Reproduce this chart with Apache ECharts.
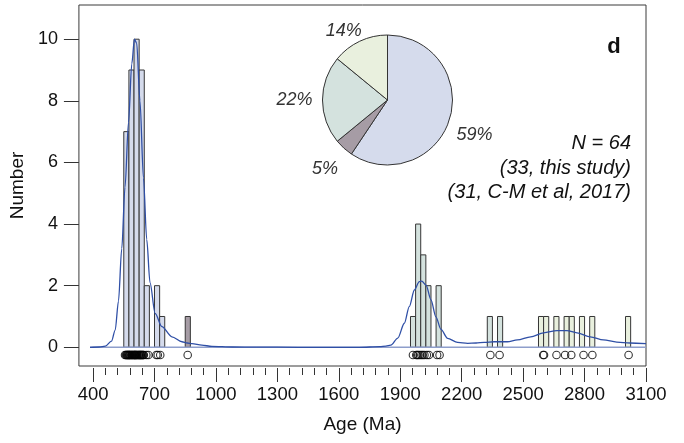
<!DOCTYPE html>
<html><head><meta charset="utf-8">
<script src="https://cdn.jsdelivr.net/npm/echarts@6/dist/echarts.min.js"></script>
<style>html,body{margin:0;padding:0;background:#fff}#c{width:684px;height:443px}</style>
</head><body><div id="c"></div>
<script>
// ---------- DATA ----------
const binWidth = 25; // Ma
// Histogram bins (bin start, Ma) and counts per population
const binsA = [550, 575, 600, 625, 650, 700, 725];
const countsA = [7, 9, 10, 9, 2, 2, 1];
const binsB = [850];
const countsB = [1];
const binsC = [1950, 1975, 2000, 2025, 2075, 2325, 2375];
const countsC = [1, 4, 3, 2, 2, 1, 1];
const binsD = [2575, 2600, 2650, 2700, 2725, 2775, 2825, 3000];
const countsD = [1, 1, 1, 1, 1, 1, 1, 1];

// Individual grain ages (rug of circles)
const agesA = [556, 560, 563, 566, 568, 571, 573,
  576, 578, 580, 583, 586, 589, 591, 594, 597,
  600, 602, 604, 606, 609, 611, 614, 617, 620, 623,
  626, 628, 631, 633, 636, 639, 642, 645, 648,
  660, 670, 709, 716, 728];
const agesB = [862];
const agesC = [1962, 1978, 1983, 1988, 1995, 2003, 2010, 2018, 2030, 2040, 2080, 2092, 2340, 2385];
const agesD = [2598, 2602, 2663, 2705, 2735, 2795, 2838, 3015];

// Kernel density estimate curve
const kdeAge = [385, 430, 460, 490, 508, 524, 540, 556, 573, 589, 602, 613, 629, 646, 662, 678, 703, 736, 785, 834, 860, 883, 931, 980, 1080, 1200, 1400, 1700, 1800, 1830, 1854, 1888, 1920, 1944, 1969, 1993, 2005, 2026, 2050, 2074, 2099, 2131, 2180, 2229, 2270, 2310, 2358, 2423, 2472, 2537, 2600, 2665, 2714, 2763, 2828, 2892, 2957, 3022, 3100];
const kdeValue = [0, 0.01, 0.04, 0.2, 0.56, 1.5, 3.2, 5.2, 7.3, 9.2, 10.0, 9.87, 8.0, 5.5, 3.5, 2.1, 1.1, 0.67, 0.34, 0.18, 0.14, 0.12, 0.07, 0.03, 0.01, 0.005, 0, 0, 0.02, 0.04, 0.07, 0.3, 0.78, 1.32, 1.86, 2.13, 2.15, 2.02, 1.54, 0.99, 0.58, 0.29, 0.16, 0.13, 0.14, 0.16, 0.18, 0.18, 0.24, 0.34, 0.47, 0.54, 0.54, 0.47, 0.34, 0.24, 0.17, 0.14, 0.12];

// Pie (grain counts per population)
const pieValues = [38, 3, 14, 9];

// Tick labels
const xMajorTicks = [400, 700, 1000, 1300, 1600, 1900, 2200, 2500, 2800, 3100];
const yTicks = [0, 2, 4, 6, 8, 10];
const xMinorTicks = [];
for (let v = 400; v <= 3100; v += 60) xMinorTicks.push(v);

// ---------- STYLE ----------
const FONT = 'Liberation Sans, Arial, sans-serif';
const colA = '#d5dbec', colB = '#a69ca5', colC = '#d4e2de', colD = '#e9f0de';
const RUG_Y = -0.25;

const chart = echarts.init(document.getElementById('c'), null, {renderer: 'canvas'});

function hist(bins, counts, color) {
  return {
    type: 'custom', xAxisIndex: 0, yAxisIndex: 0, z: 2, silent: true,
    data: bins.map((b, i) => [b, counts[i]]),
    encode: {x: 0, y: 1},
    renderItem: function (params, api) {
      const x0 = api.value(0), c = api.value(1);
      const p0 = api.coord([x0, c]);
      const p1 = api.coord([x0 + binWidth, 0]);
      return {type: 'rect',
        shape: {x: p0[0], y: p0[1], width: p1[0] - p0[0], height: p1[1] - p0[1]},
        style: {fill: color, stroke: '#363636', lineWidth: 1}};
    }
  };
}
function rug(ages) {
  return {
    type: 'scatter', xAxisIndex: 0, yAxisIndex: 0, z: 6, silent: true,
    symbol: 'circle', symbolSize: 7.5,
    itemStyle: {color: 'rgba(0,0,0,0)', borderColor: '#000', borderWidth: 1.1},
    data: ages.map(a => [a, RUG_Y])
  };
}

const pieData = pieValues.map((v, i) => ({value: v, itemStyle: {color: [colA, colB, colC, colD][i]}}));
const total = pieValues.reduce((a, b) => a + b, 0);
const labelOffsets = [[-2, 8], [0, 0], [0, 0], [-4, 15]];

const option = {
  animation: false,
  grid: {left: 77, right: 38, top: 5, bottom: 77, show: true, borderColor: '#3a3a3a', borderWidth: 1, backgroundColor: 'rgba(0,0,0,0)'},
  xAxis: [{
    type: 'value', min: 330.9, max: 3100, position: 'bottom', offset: 2,
    axisLine: {show: false, onZero: false}, splitLine: {show: false},
    axisTick: {show: true, customValues: xMajorTicks, length: 14, lineStyle: {color: '#333', width: 1}},
    axisLabel: {customValues: xMajorTicks, margin: 17, fontSize: 18.5, color: '#111', fontFamily: FONT,
      formatter: v => String(v)},
    name: 'Age (Ma)', nameLocation: 'middle', nameGap: 47,
    nameTextStyle: {fontSize: 19, color: '#111', fontFamily: FONT}
  }, {
    type: 'value', min: 330.9, max: 3100, position: 'bottom', offset: 2,
    axisLine: {show: false, onZero: false}, splitLine: {show: false},
    axisTick: {show: true, customValues: xMinorTicks, length: 7, lineStyle: {color: '#333', width: 1}},
    axisLabel: {show: false}
  }],
  yAxis: {
    type: 'value', min: -0.607, max: 11.11,
    axisLine: {show: false, onZero: false}, splitLine: {show: false},
    axisTick: {show: true, customValues: yTicks, length: 15, lineStyle: {color: '#333', width: 1}},
    axisLabel: {customValues: yTicks, margin: 21, fontSize: 18, color: '#111', fontFamily: FONT,
      formatter: v => String(v)},
    name: 'Number', nameLocation: 'middle', nameGap: 44,
    nameTextStyle: {fontSize: 19, color: '#111', fontFamily: FONT}
  },
  series: [
    hist(binsA, countsA, colA),
    hist(binsB, countsB, colB),
    hist(binsC, countsC, colC),
    hist(binsD, countsD, colD),
    {type: 'line', xAxisIndex: 0, z: 3, silent: true, showSymbol: false,
     lineStyle: {color: '#8e9ecb', width: 1.6},
     data: [[kdeAge[0], 0], [kdeAge[kdeAge.length - 1], 0]]},
    {type: 'line', xAxisIndex: 0, z: 4, silent: true, showSymbol: false, smooth: 0.3, smoothMonotone: 'x',
     lineStyle: {color: '#2f4fa6', width: 1.3},
     data: kdeAge.map((a, i) => [a, kdeValue[i]])},
    rug(agesA), rug(agesB), rug(agesC), rug(agesD),
    {type: 'pie', center: [387.5, 100], radius: 65, startAngle: 90, clockwise: true, silent: true, z: 7,
     label: {show: false}, labelLine: {show: false},
     itemStyle: {borderColor: '#333', borderWidth: 1},
     data: pieData},
    {type: 'pie', center: [387.5, 100], radius: [0, 180], startAngle: 90, clockwise: true, silent: true, z: 8,
     itemStyle: {color: 'rgba(0,0,0,0)', borderWidth: 0},
     labelLine: {show: false},
     label: {show: true, position: 'inside', fontSize: 18, fontStyle: 'italic', color: '#333', fontFamily: FONT,
       formatter: p => Math.round(p.value / total * 100) + '%'},
     data: pieValues.map((v, i) => ({value: v, label: {offset: labelOffsets[i]}}))}
  ],
  graphic: [
    {type: 'text', x: 614, y: 47, style: {text: 'd', align: 'center', verticalAlign: 'middle', font: 'bold 22px Liberation Sans, Arial', fill: '#111'}},
    {type: 'text', x: 631, y: 143, style: {text: 'N = 64', align: 'right', verticalAlign: 'middle', font: 'italic 20px Liberation Sans, Arial', fill: '#111'}},
    {type: 'text', x: 631, y: 168, style: {text: '(33, this study)', align: 'right', verticalAlign: 'middle', font: 'italic 20px Liberation Sans, Arial', fill: '#111'}},
    {type: 'text', x: 631, y: 192, style: {text: '(31, C-M et al, 2017)', align: 'right', verticalAlign: 'middle', font: 'italic 20px Liberation Sans, Arial', fill: '#111'}}
  ]
};
chart.setOption(option);
</script>
</body></html>
